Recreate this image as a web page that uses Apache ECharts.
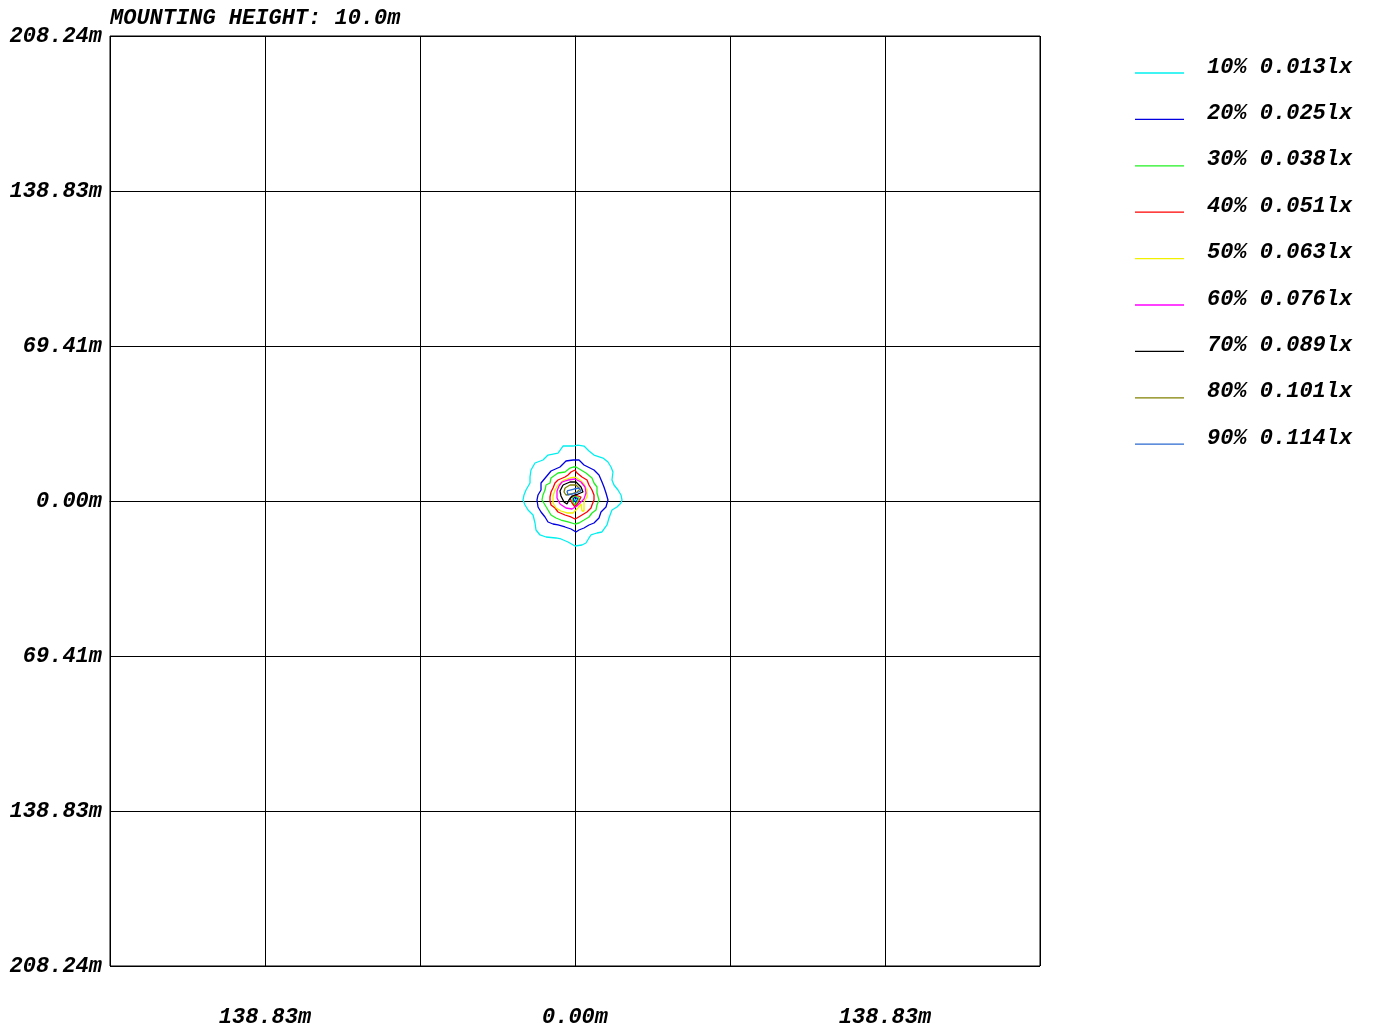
<!DOCTYPE html>
<html>
<head>
<meta charset="utf-8">
<script src="https://cdn.jsdelivr.net/npm/echarts@6/dist/echarts.min.js"></script>
<style>
html,body{margin:0;padding:0;background:#fff;}
#chart{width:1374px;height:1028px;}
</style>
</head>
<body>
<div id="chart"></div>
<script>
// ---- data ----
const titleText = 'MOUNTING HEIGHT: 10.0m';
const axisMin = -208.24;
const axisMax = 208.24;
const xTickLabels = ['', '138.83m', '', '0.00m', '', '138.83m', ''];
const yTickLabels = ['208.24m', '138.83m', '69.41m', '0.00m', '69.41m', '138.83m', '208.24m'];

const levelPct = ['10%', '20%', '30%', '40%', '50%', '60%', '70%', '80%', '90%'];
const levelLux = ['0.013lx', '0.025lx', '0.038lx', '0.051lx', '0.063lx', '0.076lx', '0.089lx', '0.101lx', '0.114lx'];
const levelColors = ['#00f0f0', '#0000e0', '#20f020', '#ff0000', '#f0f000', '#ff00ff', '#000000', '#808000', '#2a6ad0'];

// contour rings in metres (x, y)
const contour10 = [[-0.90,24.62],[-5.37,24.62],[-7.61,21.49],[-12.09,20.59],[-14.33,18.36],[-17.91,17.01],[-19.70,13.88],[-20.15,10.74],[-20.15,8.06],[-21.94,4.92],[-22.83,2.69],[-23.28,0.45],[-22.39,-1.79],[-21.04,-4.03],[-18.80,-6.27],[-17.91,-9.85],[-17.46,-12.98],[-15.67,-15.22],[-12.98,-16.12],[-8.51,-16.56],[-6.27,-17.01],[-3.13,-18.36],[0,-20.15],[3.13,-19.70],[4.92,-18.80],[6.27,-16.56],[7.16,-15.22],[9.85,-14.33],[12.09,-13.88],[14.33,-10.74],[15.22,-7.61],[16.56,-4.03],[18.80,-2.69],[20.59,-0.90],[21.04,0.45],[20.59,2.69],[19.25,4.92],[17.46,7.16],[16.56,9.40],[17.01,12.98],[16.12,15.22],[14.77,17.46],[12.54,19.25],[8.51,20.59],[6.27,22.39],[4.03,24.62],[1.34,25.07],[-0.90,24.62]];
const contour10b = [[-0.45,0.45],[0,0.90],[0.90,0.45],[0,-0.45],[-0.45,0.45]];
const contour20 = [[-0.90,18.36],[-4.03,17.91],[-6.72,15.22],[-10.74,13.43],[-12.98,10.74],[-15.22,8.06],[-15.22,4.92],[-16.56,2.69],[-17.01,0.45],[-16.56,-2.69],[-15.22,-4.92],[-13.43,-7.16],[-12.09,-9.40],[-9.85,-10.30],[-7.61,-10.74],[-4.48,-11.64],[-1.79,-12.54],[0.45,-13.88],[1.79,-12.98],[4.03,-12.09],[6.27,-10.74],[8.51,-9.85],[10.74,-7.61],[11.64,-4.92],[13.88,-2.69],[14.77,0.45],[13.88,3.58],[12.98,6.27],[12.09,8.51],[10.74,11.64],[8.51,13.88],[4.03,16.12],[1.79,18.36],[-0.90,18.36]];
const contour20b = [[-0.90,0.90],[0,1.79],[1.34,0.90],[0.45,-0.45],[0,-0.90],[-0.45,0],[-0.90,0.90]];
const contour30 = [[-0.90,15.22],[-2.24,14.77],[-4.48,12.98],[-7.61,12.54],[-10.74,10.30],[-11.19,8.06],[-12.98,7.16],[-13.43,4.92],[-14.33,2.69],[-14.77,0.45],[-13.43,-1.79],[-12.09,-4.03],[-10.74,-6.27],[-8.51,-7.61],[-6.27,-8.51],[-3.13,-9.40],[0,-10.30],[1.79,-9.85],[4.03,-8.51],[6.27,-7.16],[7.61,-5.37],[9.40,-4.03],[9.85,-1.79],[10.74,0.45],[9.85,3.58],[9.85,6.27],[8.51,8.06],[7.61,10.30],[4.92,12.54],[2.69,13.88],[0.45,15.22],[-0.90,15.22]];
const contour30b = [[-1.34,1.34],[0,2.24],[1.79,1.34],[0.90,-0.45],[0,-1.79],[-0.90,-0.45],[-1.34,1.34]];
const contour40 = [[0,13.88],[-1.79,12.98],[-3.13,11.64],[-4.48,10.74],[-7.61,9.40],[-8.95,8.06],[-9.85,5.82],[-10.74,4.03],[-11.19,1.79],[-11.19,0],[-10.74,-1.79],[-8.95,-3.13],[-7.61,-4.92],[-4.48,-6.27],[-1.79,-7.16],[0,-8.06],[0.90,-7.61],[3.13,-6.27],[5.37,-4.92],[7.16,-3.13],[7.61,-1.79],[8.51,0.45],[8.51,2.69],[7.61,4.92],[6.27,7.16],[5.37,9.40],[3.13,10.74],[0.90,12.54],[0,13.88]];
const contour40b = [[-2.24,1.34],[0,2.69],[2.69,1.79],[1.34,-0.90],[0,-2.69],[-1.34,-0.90],[-2.24,1.34]];
const contour50 = [[0,10.74],[2.24,9.40],[4.03,7.61],[5.37,4.92],[5.37,1.79],[4.03,-0.45],[4.03,-4.48],[3.13,-4.48],[2.69,-1.34],[1.34,-3.13],[-0.90,-5.37],[-3.58,-5.37],[-6.27,-4.48],[-8.51,-3.13],[-9.85,-0.90],[-9.85,2.24],[-8.95,4.92],[-7.61,7.16],[-4.92,9.40],[-2.24,10.30],[0,10.74]];
const contour60 = [[-5.82,8.51],[-3.13,9.40],[0,9.85],[2.69,8.51],[4.48,6.27],[4.92,3.58],[4.03,0.90],[2.24,-0.90],[0.90,-2.24],[-1.34,-3.58],[-4.03,-3.13],[-6.72,-1.34],[-8.06,1.34],[-8.06,4.48],[-7.16,6.72],[-5.82,8.51]];
const contour70 = [[-5.37,7.16],[-2.24,8.51],[0.45,8.51],[2.69,6.27],[3.58,4.03],[1.34,3.13],[-1.34,2.24],[-2.69,0.45],[-3.58,-1.34],[-4.92,-0.45],[-6.27,2.24],[-6.72,4.48],[-5.37,7.16]];
const contour80 = [[-4.48,5.82],[-2.24,7.16],[0.45,7.16],[2.24,5.37],[0.90,4.03],[-1.79,3.13],[-4.03,2.69],[-4.92,4.03],[-4.48,5.82]];
const contour90 = [[-3.58,4.48],[-0.45,5.37],[1.79,5.82],[2.69,4.48],[0.45,3.58],[-3.13,2.69],[-3.58,4.48]];

const levelRings = [
  [contour10, contour10b],
  [contour20, contour20b],
  [contour30, contour30b],
  [contour40, contour40b],
  [contour50],
  [contour60],
  [contour70],
  [contour80],
  [contour90]
];

// ---- chart ----
const FONT = 'Liberation Mono';
const interval = axisMax / 3;
const textBase = { fontFamily: FONT, fontWeight: 'bold', fontStyle: 'italic', fontSize: 22, color: '#000' };

function joinRings(rings) {
  const out = [];
  rings.forEach((r, i) => {
    if (i > 0) out.push(null);
    r.forEach(p => out.push(p));
  });
  return out;
}
function tickIndex(v) { return Math.round((v - axisMin) / interval); }

const series = levelPct.map((p, i) => ({
  name: p + ' ' + levelLux[i],
  type: 'line',
  data: joinRings(levelRings[i]),
  showSymbol: false,
  symbol: 'none',
  connectNulls: false,
  smooth: false,
  lineStyle: { width: 1.3, color: levelColors[i] },
  itemStyle: { color: levelColors[i] },
  emphasis: { disabled: true },
  silent: true,
  z: 3 + i
}));

const chart = echarts.init(document.getElementById('chart'), null, { renderer: 'canvas' });
chart.setOption({
  animation: false,
  backgroundColor: '#fff',
  title: {
    text: titleText,
    left: 110,
    top: 7,
    padding: 0,
    textStyle: Object.assign({}, textBase, { lineHeight: 22 })
  },
  legend: {
    orient: 'vertical',
    left: 1135,
    top: 56,
    padding: 0,
    itemGap: 12.4,
    itemWidth: 49,
    itemHeight: 1.3,
    icon: 'rect',
    selectedMode: false,
    data: series.map(s => s.name),
    formatter: name => '{t|' + name + '}',
    textStyle: Object.assign({}, textBase, {
      rich: {
        t: Object.assign({}, textBase, { lineHeight: 22, padding: [0, 0, 12, 18] })
      }
    })
  },
  grid: {
    left: 110, top: 36, width: 930, height: 930,
    show: true, borderColor: '#000', borderWidth: 1, backgroundColor: '#fff'
  },
  xAxis: {
    type: 'value', min: axisMin, max: axisMax, interval: interval,
    axisLine: { show: true, lineStyle: { color: '#000', width: 1 } },
    axisTick: { show: false },
    splitLine: { show: true, lineStyle: { color: '#000', width: 1 } },
    axisLabel: Object.assign({}, textBase, {
      margin: 40,
      showMinLabel: true, showMaxLabel: true,
      formatter: v => xTickLabels[tickIndex(v)] || ''
    })
  },
  yAxis: {
    type: 'value', min: axisMin, max: axisMax, interval: interval,
    axisLine: { show: true, lineStyle: { color: '#000', width: 1 } },
    axisTick: { show: false },
    splitLine: { show: true, lineStyle: { color: '#000', width: 1 } },
    axisLabel: Object.assign({}, textBase, {
      margin: 8,
      lineHeight: 22,
      padding: [4, 0, 0, 0],
      showMinLabel: true, showMaxLabel: true,
      formatter: v => yTickLabels[tickIndex(v)] || ''
    })
  },
  series: series
});
</script>
</body>
</html>
